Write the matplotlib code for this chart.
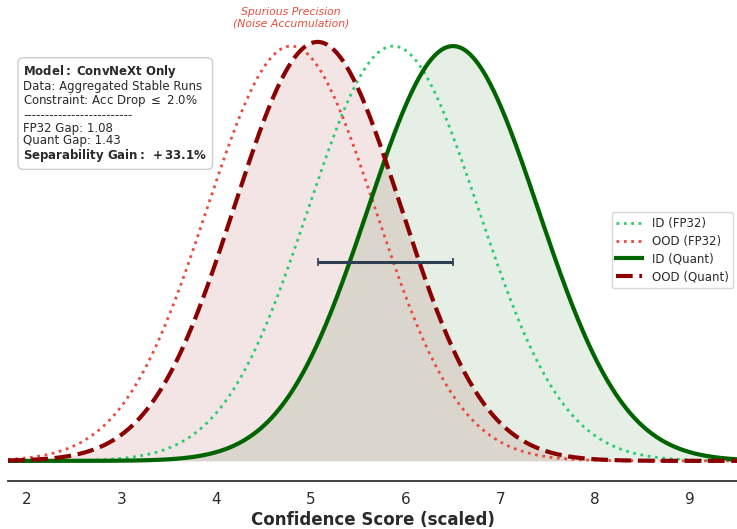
import numpy as np
import matplotlib
matplotlib.use("Agg")
import matplotlib.pyplot as plt

# Fitted score distributions (centre, spread, peak height)
series_labels = ["ID (FP32)", "OOD (FP32)", "ID (Quant)", "OOD (Quant)"]
centers = [5.87, 4.79, 6.50, 5.07]
spreads = [0.90, 0.89, 0.90, 0.88]
peaks = [0.99, 0.99, 0.99, 1.00]

# Summary numbers shown in the info box
model_name = "ConvNeXt Only"
data_desc = "Aggregated Stable Runs"
acc_drop = 2.0
fp32_gap = 1.08
quant_gap = 1.43
sep_gain = 33.1

gap_bar_level = 0.475
xticks = [2, 3, 4, 5, 6, 7, 8, 9]

colors = ["#2ecc71", "#e74c3c", "#006400", "#8b0000"]
styles = [":", ":", "-", "--"]
widths = [2.0, 2.0, 3.0, 3.0]

fig = plt.figure(figsize=(7.37, 5.29), dpi=100)
ax = fig.add_axes([8 / 737, 48 / 529, 1 - 8 / 737, 1 - 48 / 529])

x = np.linspace(1.8, 9.5, 800)
for lab, mu, sd, pk, c, ls, lw in zip(series_labels, centers, spreads, peaks, colors, styles, widths):
    y = pk * np.exp(-0.5 * ((x - mu) / sd) ** 2)
    line, = ax.plot(x, y, color=c, ls=ls, lw=lw, label=lab)
    if ls == "--":
        line.set_dashes((4.0, 1.6))
    if "Quant" in lab:
        ax.fill_between(x, 0, y, color=c, alpha=0.1, lw=0)

# Quantised separation gap between the two Quant means
half_gap = (centers[2] - centers[3]) / 2
ax.errorbar([centers[3] + half_gap], [gap_bar_level], xerr=[[half_gap], [half_gap]],
            fmt="none", ecolor="#2c3e50", elinewidth=2.2, capsize=3, capthick=1.2)

ax.text(centers[1], 1.058, "Spurious Precision\n(Noise Accumulation)", ha="center", va="center",
        color="#e74c3c", fontsize=7.8, style="italic", linespacing=1.15)

info = (r"$\bf{Model:\ ConvNeXt\ Only}$" + "\n"
        + f"Data: {data_desc}\n"
        + f"Constraint: Acc Drop $\\leq$ {acc_drop:.1f}%\n"
        + "-" * 25 + "\n"
        + f"FP32 Gap: {fp32_gap:.2f}\n"
        + f"Quant Gap: {quant_gap:.2f}\n"
        + r"$\bf{Separability\ Gain:\ +%.1f\%%}$" % sep_gain)
ax.text(0.021, 0.869, info, transform=ax.transAxes, ha="left", va="top", fontsize=8.5,
        color="#2a2a2a", linespacing=0.97,
        bbox=dict(boxstyle="round,pad=0.45", fc="white", ec="#cccccc", lw=1))

leg = ax.legend(loc="center right", bbox_to_anchor=(1.003, 0.48), fontsize=8.5,
                frameon=True, fancybox=True, handlelength=2.2, labelspacing=0.4)
leg.get_frame().set_edgecolor("#cccccc")
for t in leg.get_texts():
    t.set_color("#2a2a2a")

ax.set_xlim(1.8, 9.5)
ax.set_ylim(-0.048, 1.1)
ax.set_xticks(xticks)
ax.set_yticks([])
ax.tick_params(axis="x", length=0, labelsize=11, pad=8, colors="#2a2a2a")
for s in ["left", "right", "top"]:
    ax.spines[s].set_visible(False)
ax.spines["bottom"].set_color("#333333")
ax.spines["bottom"].set_linewidth(1.3)
ax.set_xlabel("Confidence Score (scaled)", fontsize=12, fontweight="bold", color="#2a2a2a", labelpad=3)

fig.savefig("out.png", dpi=100)
